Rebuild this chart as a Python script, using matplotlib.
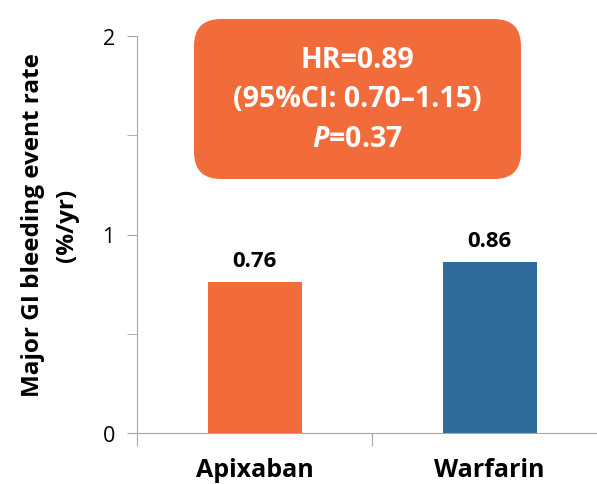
#!/usr/bin/env python3
import numpy as np
import matplotlib
matplotlib.use("Agg")
import matplotlib.pyplot as plt
from matplotlib.patches import FancyBboxPatch

# major GI bleeding rates, %/yr
drugs = ["Apixaban", "Warfarin"]
rates = [0.76, 0.86]
bar_colors = ["#F26B3A", "#2E6A9A"]
hr_lines = ["HR=0.89", "(95%CI: 0.70\u20131.15)", "$\\mathit{P}$=0.37"]

plt.rcParams["font.family"] = ["Open Sans", "DejaVu Sans"]
plt.rcParams["mathtext.fontset"] = "custom"
plt.rcParams["mathtext.it"] = "Open Sans:bold:italic"
plt.rcParams["mathtext.rm"] = "Open Sans:bold"

fig = plt.figure(figsize=(5.97, 4.85), dpi=100)
ax = fig.add_axes([137 / 597, 51 / 485, 470 / 597, 397 / 485])

x = np.arange(len(drugs))
ax.bar(x, rates, width=0.4, color=bar_colors, zorder=2)
for xi, r in zip(x, rates):
    ax.text(xi, r + 0.08, f"{r:.2f}", ha="center", va="baseline",
            fontsize=16, fontweight="bold", color="black")

ax.set_xlim(-0.5, 1.5)
ax.set_ylim(0, 2)
ax.set_yticks([0, 1, 2])
ax.set_yticks([0.5, 1.5], minor=True)
ax.set_xticks([-0.5, 0.5, 1.5])
ax.set_xticklabels([])
for xi, name in zip(x, drugs):
    ax.text(xi, -0.122, name, ha="center", va="top", fontsize=18,
            fontweight="bold", clip_on=False)

axis_gray = "#A6A6A6"
for side in ["top", "right"]:
    ax.spines[side].set_visible(False)
for side in ["left", "bottom"]:
    ax.spines[side].set_color(axis_gray)
ax.tick_params(axis="y", which="both", length=7, color=axis_gray,
               labelsize=15.5, pad=9)
ax.tick_params(axis="x", length=9, color=axis_gray)

ax.set_ylabel("Major GI bleeding event rate\n(%/yr)", fontsize=17.5,
              fontweight="bold", linespacing=1.55)
ax.yaxis.set_label_coords(-0.124, 0.526)

# hazard ratio callout
box = FancyBboxPatch((1.94, 3.05), 3.27, 1.60,
                     boxstyle="round,pad=0,rounding_size=0.27",
                     transform=fig.dpi_scale_trans, facecolor="#F26B3A",
                     edgecolor="none", clip_on=False)
fig.add_artist(box)
for i, line in enumerate(hr_lines):
    fig.text(357.5 / 597, 1 - (60 + 40 * i) / 485, line, ha="center",
             va="center", fontsize=20.5, fontweight="bold", color="white")

fig.savefig("out.png", dpi=100)
